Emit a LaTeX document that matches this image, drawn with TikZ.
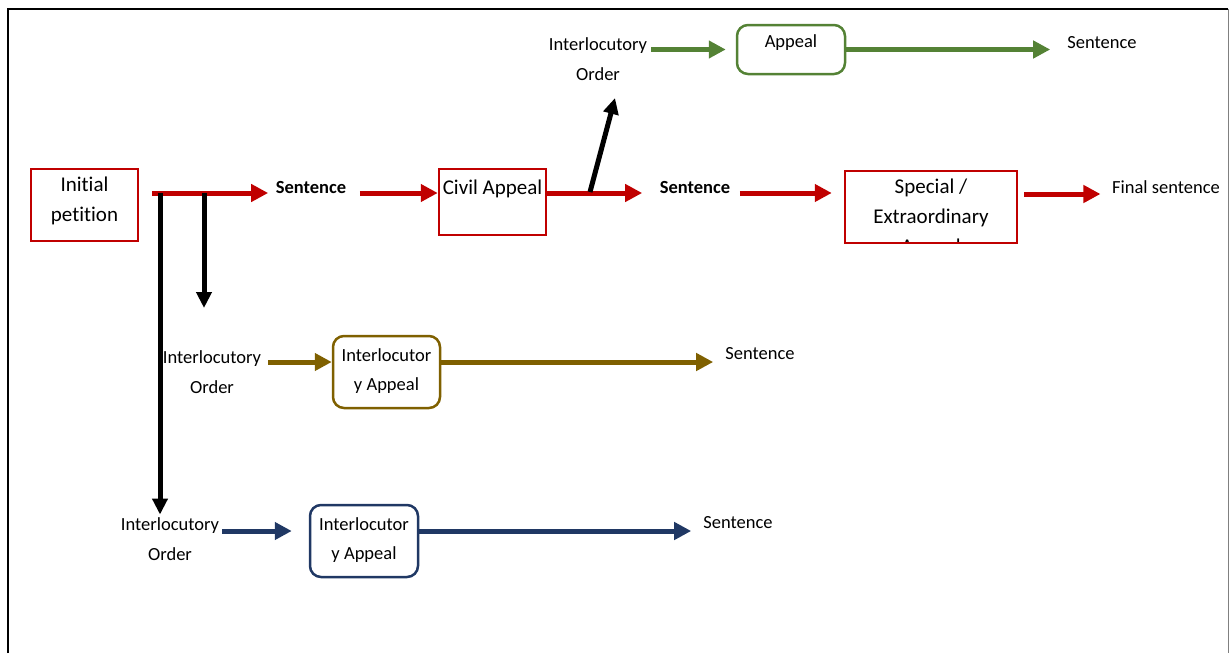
\documentclass[tikz,border=0pt]{standalone}
\usepackage{fontspec}
\setmainfont{Carlito}[Ligatures=NoCommon]
\usetikzlibrary{arrows.meta,positioning,calc}
\definecolor{appred}{HTML}{C00000}
\definecolor{appgreen}{HTML}{548235}
\definecolor{appolive}{HTML}{7F6000}
\definecolor{appnavy}{HTML}{203864}

\begin{document}
\begin{tikzpicture}[x=1pt,y=-1pt,
  bigtxt/.style={font=\fontsize{21}{30}\selectfont, align=center, inner sep=0pt},
  smalltxt/.style={font=\fontsize{18.5}{29.5}\selectfont, align=center, inner sep=0pt},
  boldtxt/.style={font=\fontsize{18.5}{29.5}\selectfont\bfseries, inner sep=0pt},
  redbox/.style={draw=appred, line width=2.5pt, inner sep=0pt},
  roundbox/.style={line width=2.5pt, rounded corners=11pt, inner sep=0pt},
  flow/.style={line width=5pt, -{Triangle[length=17pt,width=17pt]}},
  branch/.style={line width=5pt, -{Triangle[length=16pt,width=15pt]}},
  ]
\useasboundingbox (0,0) rectangle (1231,653);
% frame
\draw[line width=2.5pt] (8,653) -- (8,9) -- (1228,9);
\draw[gray, line width=1pt] (1228,9) -- (1228,653);

% main line
\node[redbox, minimum width=107pt, minimum height=72pt,
  label={[bigtxt, yshift=4pt]center:Initial\\petition}] (petition) at (84.5,205) {};
\coordinate (split) at (152,193);
\node[boldtxt] (sent1) at (311,187) {Sentence};
\node[redbox, minimum width=107pt, minimum height=66pt,
  label={[bigtxt, yshift=13.5pt]center:Civil Appeal}] (civil) at (492.5,202) {};
\node[boldtxt] (sent2) at (695,187) {Sentence};
\node[redbox, minimum width=172pt, minimum height=72pt] (special) at (931,207) {};
\begin{scope}
  \clip ([yshift=2.5pt]special.south west) rectangle (special.north east);
  \node[bigtxt, yshift=-11pt] (specialtxt) at (special.center) {Special /\\Extraordinary\\Appeal};
\end{scope}
\node[smalltxt] (final) at (1166,187) {Final sentence};

\draw[flow, appred] (split) -- ($(sent1.west |- split)+(-7.5,0)$);
\draw[flow, appred] ($(sent1.east |- split)+(13.5,0)$) -- (civil.west |- split);
\draw[flow, appred] (civil.east |- split) -- ($(sent2.west |- split)+(-17.5,0)$);
\draw[flow, appred] ($(sent2.east |- split)+(9.5,0)$) -- ($(special.west |- split)+(-12,0)$);
\draw[flow, appred] ($(special.east |- split)+(6,1)$) -- ($(final.west |- split)+(-11.5,1)$);

% interlocutory order after the civil appeal
\node[smalltxt] (io1) at (598,59) {Interlocutory\\Order};
\node[draw=appgreen, roundbox, minimum width=108pt, minimum height=49pt,
  label={[smalltxt, yshift=6.5pt]center:Appeal}] (appeal) at (791,49.5) {};
\node[smalltxt] (sent3) at (1102,43) {Sentence};
\coordinate (fork) at (590,192);
\coordinate (forktip) at (615,98);
\draw[branch] (fork) -- (forktip);
\draw[flow, appgreen] ($(io1.east |- appeal)+(4,0)$) -- ($(appeal.west)+(-10,0)$);
\draw[flow, appgreen] (appeal.east) -- ($(sent3.west |- appeal)+(-17,0)$);

% interlocutory orders after the initial petition
\coordinate (b1) at (204,193);
\coordinate (b1tip) at (204,308);
\coordinate (b2) at (160,193);
\node[smalltxt] (io2) at (212,372) {Interlocutory\\Order};
\node[draw=appolive, roundbox, minimum width=107pt, minimum height=72pt,
  label={[smalltxt, yshift=1pt]center:Interlocutor\\y Appeal}] (olivebox) at (386.5,372) {};
\node[smalltxt] (sent4) at (760,354) {Sentence};
\node[smalltxt] (io3) at (170,539) {Interlocutory\\Order};
\node[draw=appnavy, roundbox, minimum width=108pt, minimum height=72pt,
  label={[smalltxt, yshift=1pt]center:Interlocutor\\y Appeal}] (navybox) at (364,541) {};
\node[smalltxt] (sent5) at (738,523) {Sentence};

\draw[branch] (b1) -- (b1tip);
\draw[branch] (b2) -- ($(b2 |- io3.north)+(0,-3)$);

\draw[flow, appolive] ($(io2.east)+(7,-10)$) -- ($(olivebox.west)+(0,-10)$);
\draw[flow, appolive] ($(olivebox.east)+(0,-10)$) -- ($(sent4.west |- olivebox)+(-12,-10)$);
\draw[flow, appnavy] ($(io3.east)+(3,-8)$) -- ($(navybox.west)+(-17,-10)$);
\draw[flow, appnavy] ($(navybox.east)+(0,-10)$) -- ($(sent5.west |- navybox)+(-12,-10)$);
\end{tikzpicture}
\end{document}
